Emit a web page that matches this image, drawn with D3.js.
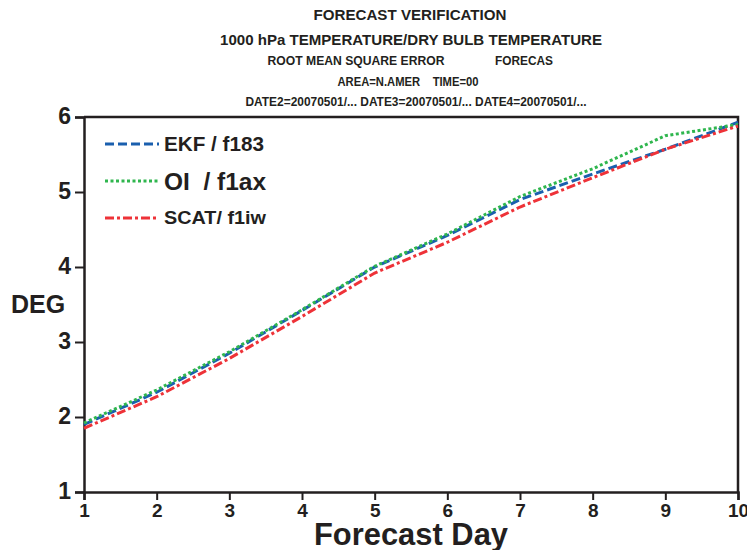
<!DOCTYPE html>
<html>
<head>
<meta charset="utf-8">
<script src="https://cdn.jsdelivr.net/npm/d3@7"></script>
<style>
  body { margin: 0; background: #fff; }
  text { font-family: "Liberation Sans", Arial, sans-serif; font-weight: bold; fill: #231f20; }
</style>
</head>
<body>
<div id="container"></div>
<script>
const w = 747;
const h = 550;
const m = { top: 117, right: 9, bottom: 58, left: 84 };

const days = [1, 2, 3, 4, 5, 6, 7, 8, 9, 10];
const ekf = [1.90, 2.33, 2.85, 3.42, 4.00, 4.42, 4.90, 5.24, 5.57, 5.93];
const oi = [1.92, 2.36, 2.87, 3.43, 4.01, 4.44, 4.94, 5.31, 5.75, 5.90];
const scat = [1.85, 2.27, 2.78, 3.34, 3.92, 4.33, 4.80, 5.19, 5.57, 5.88];
const yTicks = [1, 2, 3, 4, 5, 6];

const titles = [
  { t: 'FORECAST VERIFICATION', x: 410, y: 20, s: 15, len: 193 },
  { t: '1000 hPa TEMPERATURE/DRY BULB TEMPERATURE', x: 411, y: 45, s: 15, len: 382 },
  { t: 'ROOT MEAN SQUARE ERROR', x: 356, y: 65, s: 12, len: 177 },
  { t: 'FORECAS', x: 524, y: 65, s: 12, len: 58 },
  { t: 'AREA=N.AMER    TIME=00', x: 408, y: 86, s: 12, len: 141 },
  { t: 'DATE2=20070501/... DATE3=20070501/... DATE4=20070501/...', x: 416, y: 106, s: 12, len: 341 }
];

const series = [
  { name: 'EKF / f183', vals: ekf, color: '#1a5fae', dash: '9,4', size: 20, len: 100 },
  { name: 'OI  / f1ax', vals: oi, color: '#2fb64e', dash: '3,2.5', size: 24, len: 102 },
  { name: 'SCAT/ f1iw', vals: scat, color: '#ee3238', dash: '9,3,3,3', size: 18, len: 102 }
];

const svg = d3.select('#container')
  .append('svg')
  .attr('width', w)
  .attr('height', h)
  .attr('viewBox', [0, 0, w, h]);

const x = d3.scaleLinear()
  .domain([1, 10])
  .range([m.left, w - m.right]);

const y = d3.scaleLinear()
  .domain([1, 6])
  .range([h - m.bottom, m.top]);

// titles
svg.selectAll('.title')
  .data(titles)
  .enter()
  .append('text')
  .attr('x', d => d.x)
  .attr('y', d => d.y)
  .attr('text-anchor', 'middle')
  .attr('textLength', d => d.len)
  .attr('lengthAdjust', 'spacingAndGlyphs')
  .style('font-size', d => d.s + 'px')
  .style('white-space', 'pre')
  .text(d => d.t);

// frame (top + right)
svg.append('path')
  .attr('d', `M${x(1)},${y(6)}H${x(10)}V${y(1)}`)
  .attr('fill', 'none')
  .attr('stroke', '#231f20')
  .attr('stroke-width', 2.5);

const xAxis = svg.append('g')
  .attr('transform', 'translate(0,' + y(1) + ')')
  .call(d3.axisBottom(x).tickValues(days).tickFormat(d3.format('d')).tickSize(8).tickPadding(2));

const yAxis = svg.append('g')
  .attr('transform', 'translate(' + x(1) + ',0)')
  .call(d3.axisLeft(y).tickValues(yTicks).tickFormat(d3.format('d')).tickSize(9).tickPadding(4));

[xAxis, yAxis].forEach(g => {
  g.select('.domain').attr('stroke', '#231f20').attr('stroke-width', 2.5);
  g.selectAll('.tick line').attr('stroke', '#231f20').attr('stroke-width', 2);
  g.selectAll('.tick text')
    .style('font-family', '"Liberation Sans", Arial, sans-serif')
    .style('font-weight', 'bold')
    .attr('fill', '#231f20');
});
xAxis.selectAll('.tick text').style('font-size', '19px').attr('dy', '0.8em');
yAxis.selectAll('.tick text').style('font-size', '23px').attr('dy', '0.3em');

// axis labels
svg.append('text')
  .attr('x', 411)
  .attr('y', 545)
  .attr('text-anchor', 'middle')
  .attr('textLength', 194)
  .attr('lengthAdjust', 'spacingAndGlyphs')
  .style('font-size', '32px')
  .text('Forecast Day');

svg.append('text')
  .attr('x', 11)
  .attr('y', 313)
  .style('font-size', '25px')
  .text('DEG');

// lines
const line = d3.line()
  .x((d, i) => x(days[i]))
  .y(d => y(d));

svg.selectAll('.series')
  .data(series)
  .enter()
  .append('path')
  .attr('d', d => line(d.vals))
  .attr('fill', 'none')
  .attr('stroke', d => d.color)
  .attr('stroke-width', 3)
  .attr('stroke-dasharray', d => d.dash);

// legend
const legend = svg.selectAll('.legend')
  .data(series)
  .enter()
  .append('g')
  .attr('transform', (d, i) => 'translate(105,' + (144 + i * 37) + ')');

legend.append('line')
  .attr('x1', 0)
  .attr('x2', 54)
  .attr('stroke', d => d.color)
  .attr('stroke-width', 3)
  .attr('stroke-dasharray', d => d.dash);

legend.append('text')
  .attr('x', 59)
  .attr('y', d => d.size * 0.36)
  .attr('textLength', d => d.len)
  .attr('lengthAdjust', 'spacingAndGlyphs')
  .style('font-size', d => d.size + 'px')
  .style('white-space', 'pre')
  .text(d => d.name);
</script>
</body>
</html>
